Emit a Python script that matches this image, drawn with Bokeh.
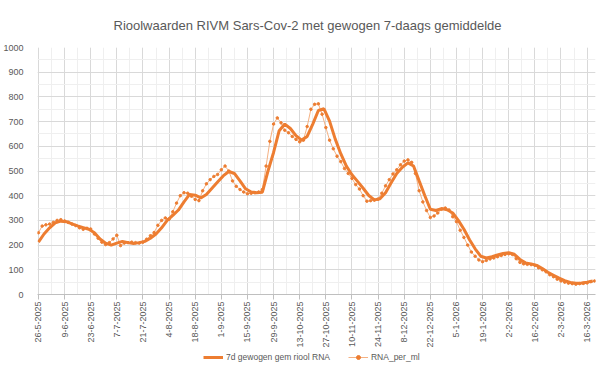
import math
import pandas as pd
from bokeh.plotting import figure
from bokeh.layouts import column
from bokeh.models import FixedTicker, Legend, LegendItem, Range1d
from bokeh.embed import file_html
from bokeh.resources import INLINE

# ---------------- data ----------------
START_DATE = "2025-05-26"
RAW_STEP_DAYS = 2      # RNA_per_ml sampled every 2 days
SMOOTH_STEP_DAYS = 3   # 7d gewogen gem sampled every 3 days
TICK_STEP_DAYS = 14

raw_rna_per_ml = [
    250, 277, 282, 285, 292, 300, 303, 298, 292, 285,
    279, 270, 264, 268, 265, 245, 228, 212, 202, 210,
    225, 240, 198, 208, 210, 212, 210, 208, 212, 224,
    238, 251, 280, 300, 310, 305, 335, 370, 400, 412,
    410, 398, 385, 380, 420, 448, 465, 478, 486, 505,
    520, 500, 460, 438, 425, 415, 408, 410, 412, 415,
    425, 520, 620, 690, 715, 695, 665, 655, 640, 628,
    618, 625, 680, 750, 770, 772, 730, 676, 625, 590,
    560, 538, 510, 490, 470, 445, 427, 400, 378, 380,
    382, 386, 410, 440, 465, 488, 505, 525, 540, 545,
    535, 490, 420, 375, 340, 312, 318, 330, 345, 350,
    342, 315, 295, 260, 231, 200, 172, 155, 140, 133,
    138, 144, 148, 153, 158, 162, 165, 162, 145, 130,
    124, 122, 121, 118, 108, 100, 92, 80, 72, 62,
    55, 50, 46, 44, 42, 44, 45, 47, 52, 55,
]

smooth_7d = [
    212, 245, 270, 290, 297, 295, 286, 278, 271, 264,
    250, 225, 208, 200, 208, 215, 210, 206, 210, 215,
    228, 245, 270, 300, 320, 342, 375, 405, 402, 391,
    405, 430, 455, 480, 498, 490, 460, 428, 415, 412,
    414, 500, 575, 663, 690, 672, 643, 625, 640, 690,
    745, 752, 702, 630, 570, 520, 485, 458, 430, 401,
    383, 388, 412, 452, 490, 515, 533, 520, 460, 401,
    345, 340, 348, 343, 330, 300, 264, 222, 185, 155,
    148, 153, 160, 166, 169, 163, 142, 128, 124, 118,
    105, 90, 78, 66, 56, 49, 46, 47, 50, 55,
]

y_ticks = [0, 100, 200, 300, 400, 500, 600, 700, 800, 900, 1000]
y_minor = [50 * i for i in range(21)]

title_text = "Rioolwaarden RIVM Sars-Cov-2 met gewogen 7-daags gemiddelde"
smooth_label = "7d gewogen gem riool RNA"
raw_label = "RNA_per_ml"

# ---------------- derived ----------------
start = pd.Timestamp(START_DATE)
raw_days = [i * RAW_STEP_DAYS for i in range(len(raw_rna_per_ml))]
smooth_days = [i * SMOOTH_STEP_DAYS for i in range(len(smooth_7d))]
tick_days = list(range(0, 295, TICK_STEP_DAYS))
minor_days = list(range(0, 299, 7))
tick_labels = {}
for d in tick_days:
    t = start + pd.Timedelta(days=d)
    tick_labels[d] = f"{t.day}-{t.month}-{t.year}"

ORANGE = "#ED7D31"
RAW_LINE = "#F4B183"
TEXT = "#595959"
FONT = "Liberation Sans"

p = figure(width=600, height=350, output_backend="svg", toolbar_location=None,
           x_range=Range1d(-0.5, 298.5), y_range=Range1d(0, 1000),
           min_border_left=29, min_border_right=5, min_border_top=43,
           min_border_bottom=52)

p.title.text = title_text
p.title.align = "left"
p.title.offset = 76
p.title.standoff = 30
p.title.text_font = FONT
p.title.text_font_size = "13px"
p.title.text_font_style = "normal"
p.title.text_color = TEXT

p.outline_line_color = None
p.background_fill_color = "white"
p.border_fill_color = "white"

# y axis
p.yaxis.ticker = FixedTicker(ticks=y_ticks, minor_ticks=y_minor)
p.yaxis.axis_line_color = None
p.yaxis.major_tick_line_color = None
p.yaxis.minor_tick_line_color = None
p.yaxis.major_label_text_font = FONT
p.yaxis.major_label_text_font_size = "9px"
p.yaxis.major_label_text_color = TEXT
p.yaxis.major_label_standoff = 8

# x axis
p.xaxis.ticker = FixedTicker(ticks=tick_days, minor_ticks=minor_days)
p.xaxis.major_label_overrides = tick_labels
p.xaxis.major_label_orientation = math.pi / 2
p.xaxis.axis_line_color = "#bfbfbf"
p.xaxis.major_tick_line_color = "#bfbfbf"
p.xaxis.major_tick_in = 0
p.xaxis.major_tick_out = 5
p.xaxis.minor_tick_line_color = None
p.xaxis.major_label_text_font = FONT
p.xaxis.major_label_text_font_size = "9px"
p.xaxis.major_label_text_color = TEXT
p.xaxis.major_label_standoff = 2

# grids
for g in (p.xgrid, p.ygrid):
    g.grid_line_color = "#d9d9d9"
    g.minor_grid_line_color = "#efefef"

p.line(raw_days, raw_rna_per_ml, line_color=RAW_LINE, line_width=1)
p.scatter(raw_days, raw_rna_per_ml, size=2.5, fill_color=ORANGE, line_color=ORANGE)
p.line(smooth_days, smooth_7d, line_color=ORANGE, line_width=3)

# ---------------- legend strip below the chart ----------------
# the strip's renderers only provide legend swatches; their points lie outside its range
lg = figure(width=600, height=15, output_backend="svg", toolbar_location=None,
            x_range=Range1d(0, 1), y_range=Range1d(0, 1),
            min_border_left=0, min_border_right=0, min_border_top=0,
            min_border_bottom=0)
lg.axis.visible = False
lg.grid.visible = False
lg.outline_line_color = None
lg.border_fill_color = "white"
swatch_x = [-10, -9]
swatch_y = [-10, -9]
lg_smooth = lg.line(swatch_x, swatch_y, line_color=ORANGE, line_width=3)
lg_raw_line = lg.line(swatch_x, swatch_y, line_color=RAW_LINE, line_width=1)
lg_raw_pts = lg.scatter(swatch_x, swatch_y, size=3, fill_color=ORANGE, line_color=ORANGE)

legend = Legend(items=[LegendItem(label=smooth_label, renderers=[lg_smooth], index=0),
                       LegendItem(label=raw_label, renderers=[lg_raw_line, lg_raw_pts], index=0)],
                orientation="horizontal", location=(166, 3),
                padding=0, margin=0, spacing=18, glyph_width=20, glyph_height=10,
                label_height=10, label_standoff=3, label_text_font=FONT,
                label_text_font_size="8.5px", label_text_color=TEXT,
                border_line_color=None, background_fill_alpha=0)
lg.add_layout(legend)

layout = column(p, lg, spacing=0)
open("out.html", "w").write(file_html(layout, INLINE))
